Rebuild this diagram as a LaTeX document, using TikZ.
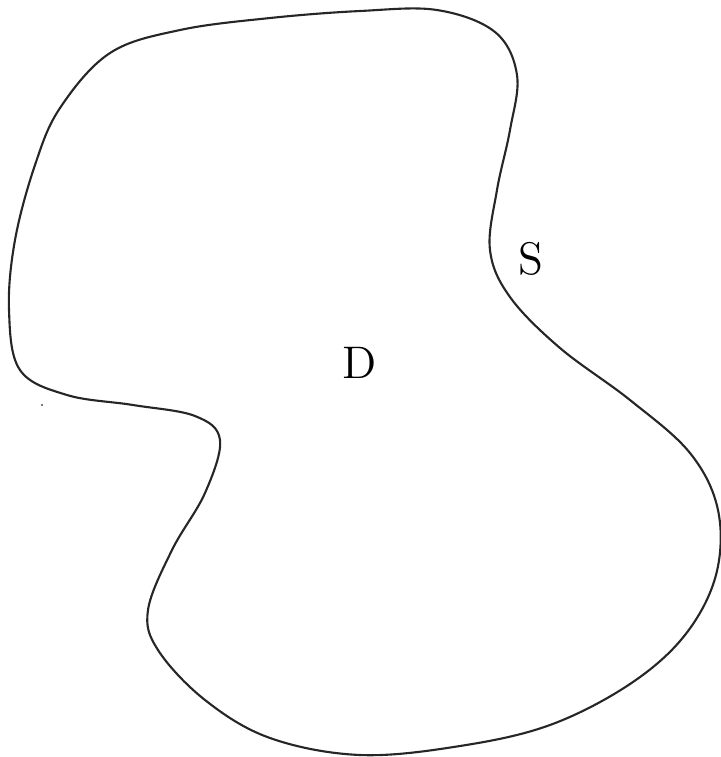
\documentclass[tikz,border=0pt]{standalone}
\usepackage{tikz}
\usetikzlibrary{positioning}

\begin{document}
\begin{tikzpicture}[
  x=0.1mm,y=-0.1mm,
  font=\fontsize{13}{15}\selectfont,
  bdry/.style={draw=black!85,line width=0.6pt},
  lbl/.style={inner sep=0pt,anchor=center}
]
\useasboundingbox (0,0) rectangle (721,757);

% ---- the region D with its boundary S
\draw[bdry] plot[smooth cycle,tension=0.6] coordinates {
  (60,108) (110,53) (180,30) (270,18) (360,11) (437,10) (495,32) (517,75)
  (510,130) (497,190) (490,250) (510,297) (560,348) (630,400) (690,453)
  (718,510) (716,575) (685,635) (630,684) (550,725) (460,746) (360,755)
  (270,738) (205,700) (158,650) (148,610) (172,550) (205,493) (220,440)
  (195,416) (133,405) (67,395) (20,370) (9,310) (15,240) (35,165)};

% ---- labels
\node[lbl] (dom) at (360,363) {D};
\node[lbl] (bnd) at (531,259) {S};

% ---- stray dot
\fill[black!70] (42,405) circle (1.2);
\end{tikzpicture}
\end{document}
